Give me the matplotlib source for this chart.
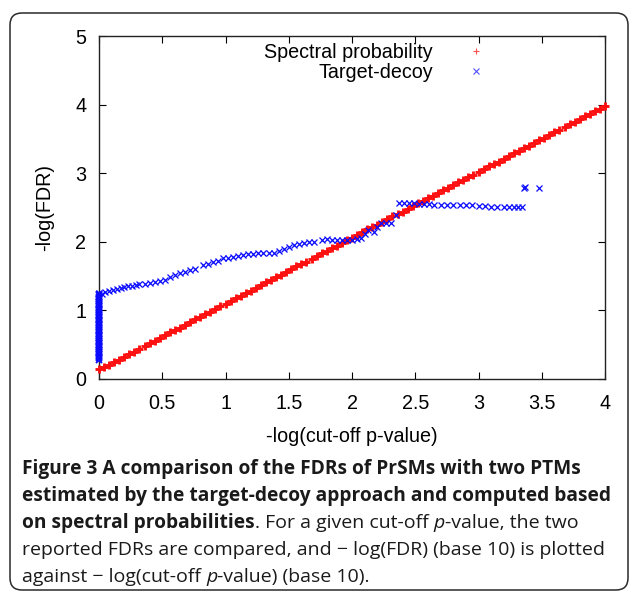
import matplotlib
matplotlib.use('Agg')
import matplotlib.pyplot as plt
from matplotlib.lines import Line2D
from matplotlib.patches import FancyBboxPatch
from matplotlib.transforms import IdentityTransform
from matplotlib.font_manager import FontProperties

# ---------------- data ----------------
x_red = [0.00, 0.04, 0.08, 0.12, 0.16, 0.20, 0.24, 0.28, 0.32, 0.36,
         0.40, 0.44, 0.48, 0.52, 0.56, 0.60, 0.64, 0.68, 0.72, 0.76,
         0.80, 0.84, 0.88, 0.92, 0.96, 1.00, 1.04, 1.08, 1.12, 1.16,
         1.20, 1.24, 1.28, 1.32, 1.36, 1.40, 1.44, 1.48, 1.52, 1.56,
         1.60, 1.64, 1.68, 1.72, 1.76, 1.80, 1.84, 1.88, 1.92, 1.96,
         2.00, 2.04, 2.08, 2.12, 2.16, 2.20, 2.24, 2.28, 2.32, 2.36,
         2.40, 2.44, 2.48, 2.52, 2.56, 2.60, 2.64, 2.68, 2.72, 2.76,
         2.80, 2.84, 2.88, 2.92, 2.96, 3.00, 3.04, 3.08, 3.12, 3.16,
         3.20, 3.24, 3.28, 3.32, 3.36, 3.40, 3.44, 3.48, 3.52, 3.56,
         3.60, 3.64, 3.68, 3.72, 3.76, 3.80, 3.84, 3.88, 3.92, 3.96,
         4.00]
y_red = [0.14, 0.17, 0.21, 0.25, 0.28, 0.32, 0.36, 0.40, 0.44, 0.48,
         0.52, 0.56, 0.60, 0.64, 0.68, 0.72, 0.75, 0.79, 0.83, 0.87,
         0.91, 0.95, 0.98, 1.02, 1.06, 1.10, 1.14, 1.18, 1.21, 1.25,
         1.29, 1.33, 1.37, 1.41, 1.45, 1.48, 1.52, 1.56, 1.60, 1.64,
         1.68, 1.71, 1.75, 1.79, 1.83, 1.87, 1.91, 1.94, 1.98, 2.02,
         2.06, 2.10, 2.14, 2.18, 2.21, 2.25, 2.29, 2.33, 2.37, 2.41,
         2.44, 2.48, 2.52, 2.56, 2.60, 2.64, 2.67, 2.71, 2.75, 2.79,
         2.83, 2.87, 2.90, 2.94, 2.98, 3.02, 3.06, 3.10, 3.14, 3.17,
         3.21, 3.25, 3.29, 3.33, 3.37, 3.40, 3.44, 3.48, 3.52, 3.56,
         3.60, 3.63, 3.67, 3.71, 3.75, 3.79, 3.83, 3.86, 3.90, 3.94,
         3.98]

# dense column of target-decoy points at x = 0
x_blue_col = [0.00] * 49
y_blue_col = [0.28, 0.30, 0.32, 0.34, 0.36, 0.38, 0.40, 0.42, 0.44, 0.46,
              0.48, 0.50, 0.52, 0.54, 0.56, 0.58, 0.60, 0.62, 0.64, 0.66,
              0.68, 0.70, 0.72, 0.74, 0.76, 0.78, 0.80, 0.82, 0.84, 0.86,
              0.88, 0.90, 0.92, 0.94, 0.96, 0.98, 1.00, 1.02, 1.04, 1.06,
              1.08, 1.10, 1.12, 1.14, 1.16, 1.18, 1.20, 1.22, 1.24]

x_blue = [0.00, 0.02, 0.05, 0.08, 0.11, 0.14, 0.17, 0.20, 0.23, 0.26,
          0.29, 0.32, 0.36, 0.40, 0.44, 0.48, 0.52, 0.56, 0.60, 0.64,
          0.68, 0.72, 0.76, 0.82, 0.86, 0.90, 0.94, 0.98, 1.02, 1.06,
          1.10, 1.14, 1.18, 1.22, 1.26, 1.30, 1.34, 1.38, 1.42, 1.46,
          1.50, 1.54, 1.58, 1.62, 1.66, 1.70, 1.76, 1.80, 1.84, 1.88,
          1.92, 1.96, 2.00, 2.04, 2.07, 2.10, 2.13, 2.17, 2.20, 2.23,
          2.27, 2.31, 2.35, 2.37, 2.41, 2.45, 2.49, 2.53, 2.57, 2.61,
          2.65, 2.70, 2.75, 2.80, 2.85, 2.90, 2.95, 3.00, 3.05, 3.10,
          3.15, 3.20, 3.24, 3.28, 3.31, 3.34, 3.36, 3.37, 3.48]
y_blue = [1.25, 1.24, 1.27, 1.28, 1.30, 1.31, 1.32, 1.34, 1.35, 1.35,
          1.37, 1.38, 1.39, 1.40, 1.42, 1.43, 1.45, 1.49, 1.52, 1.54,
          1.56, 1.59, 1.60, 1.66, 1.68, 1.70, 1.72, 1.76, 1.77, 1.78,
          1.80, 1.81, 1.82, 1.82, 1.83, 1.84, 1.84, 1.83, 1.87, 1.90,
          1.93, 1.95, 1.97, 1.98, 1.99, 1.99, 2.03, 2.04, 2.03, 2.03,
          2.03, 2.03, 2.03, 2.04, 2.05, 2.12, 2.17, 2.15, 2.22, 2.27,
          2.27, 2.27, 2.39, 2.56, 2.56, 2.56, 2.56, 2.55, 2.55, 2.55,
          2.54, 2.54, 2.54, 2.53, 2.53, 2.53, 2.53, 2.52, 2.52, 2.51,
          2.51, 2.51, 2.50, 2.50, 2.50, 2.50, 2.79, 2.80, 2.79]

x_ticks = [0, 0.5, 1, 1.5, 2, 2.5, 3, 3.5, 4]
x_tick_labels = ['0', '0.5', '1', '1.5', '2', '2.5', '3', '3.5', '4']
y_ticks = [0, 1, 2, 3, 4, 5]
y_tick_labels = ['0', '1', '2', '3', '4', '5']

series_names = ['Spectral probability', 'Target-decoy']
x_label = '-log(cut-off p-value)'
y_label = '-log(FDR)'

caption_lines = [
    [("Figure 3 A comparison of the FDRs of PrSMs with two PTMs", 'bold')],
    [("estimated by the target-decoy approach and computed based", 'bold')],
    [("on spectral probabilities", 'bold'), (". For a given cut-off ", 'reg'),
     ("p", 'it'), ("-value, the two", 'reg')],
    [("reported FDRs are compared, and \u2212 log(FDR) (base 10) is plotted", 'reg')],
    [("against \u2212 log(cut-off ", 'reg'), ("p", 'it'), ("-value) (base 10).", 'reg')],
]

# ---------------- figure ----------------
W, H = 630, 592
fig = plt.figure(figsize=(W / 100, H / 100), dpi=100)
fig.patch.set_facecolor('white')

ax_font = ['Liberation Sans', 'DejaVu Sans']
fs = 14.2

ax = fig.add_axes([99 / W, (H - 379) / H, 506 / W, 343 / H])
ax.plot(x_red, y_red, linestyle='none', marker='+', ms=6, mew=2.1,
        color='#ff1010', clip_on=False, zorder=3)
ax.plot(x_blue_col, y_blue_col, linestyle='none', marker='x', ms=4.5, mew=1.4,
        color='#0a0aff', clip_on=False, zorder=4)
ax.plot(x_blue, y_blue, linestyle='none', marker='x', ms=5, mew=0.9,
        color='#0a0aff', clip_on=False, zorder=4)

ax.set_xlim(0, 4)
ax.set_ylim(0, 5)
ax.set_xticks(x_ticks)
ax.set_xticklabels(x_tick_labels, fontfamily=ax_font, fontsize=fs)
ax.set_yticks(y_ticks)
ax.set_yticklabels(y_tick_labels, fontfamily=ax_font, fontsize=fs)
ax.tick_params(direction='in', length=5, width=0.8, top=True, right=True,
               colors='black')
ax.tick_params(axis='x', pad=11)
ax.tick_params(axis='y', pad=9)
for s in ax.spines.values():
    s.set_linewidth(1.0)
    s.set_color('#222222')
ax.set_xlabel(x_label, fontfamily=ax_font, fontsize=fs, labelpad=10)
ax.set_ylabel(y_label, fontfamily=ax_font, fontsize=fs, labelpad=15)

# legend (gnuplot style: text right-aligned, sample on the right)
h1 = Line2D([], [], linestyle='none', marker='+', ms=5, mew=0.8, color='#ff5050')
h2 = Line2D([], [], linestyle='none', marker='x', ms=4, mew=0.8, color='#5050ff')
leg_kw = dict(loc='center right', frameon=False, markerfirst=False,
              borderpad=0, borderaxespad=0, handlelength=1.8,
              handletextpad=1.3, prop=FontProperties(family=ax_font, size=fs))
leg1 = ax.legend([h1], [series_names[0]], bbox_to_anchor=(0.781, 0.953), **leg_kw)
ax.add_artist(leg1)
leg2 = ax.legend([h2], [series_names[1]], bbox_to_anchor=(0.781, 0.893), **leg_kw)

# rounded frame
frame = FancyBboxPatch((10, 2), 618, 577,
                       boxstyle='round,pad=0,rounding_size=12',
                       transform=IdentityTransform(), facecolor='none',
                       edgecolor='#2a2a2a', linewidth=1.1, zorder=0)
fig.add_artist(frame)

# caption
cap_family = ['Open Sans', 'DejaVu Sans']
props = {
    'bold': FontProperties(family=cap_family, size=13.8, weight='bold'),
    'reg': FontProperties(family=cap_family, size=14.0),
    'it': FontProperties(family=cap_family, size=14.0, style='italic'),
}
renderer = fig.canvas.get_renderer()


def text_width(s, fp):
    t1 = fig.text(0, 0, s + '|', fontproperties=fp)
    w1 = t1.get_window_extent(renderer).width
    t1.remove()
    t2 = fig.text(0, 0, '|', fontproperties=fp)
    w2 = t2.get_window_extent(renderer).width
    t2.remove()
    return w1 - w2


baselines = [474, 501, 528, 555, 582]
for line, yb in zip(caption_lines, baselines):
    x = 22
    for s, st in line:
        fig.text(x / W, 1 - yb / H, s, fontproperties=props[st],
                 va='baseline', ha='left', color='#1a1a1a')
        x += text_width(s, props[st])

fig.savefig('out.png', dpi=100)
